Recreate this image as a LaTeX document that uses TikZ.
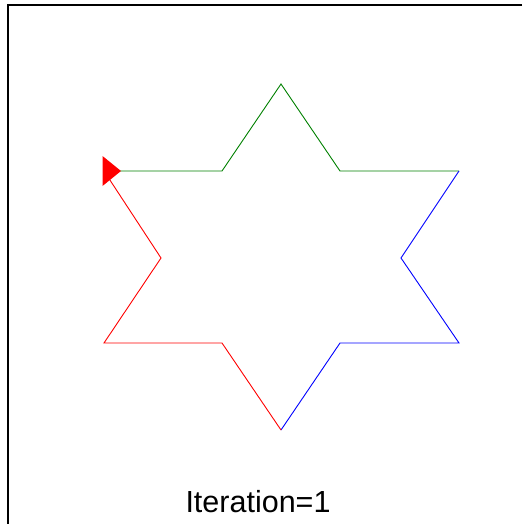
\documentclass[tikz,border=0pt]{standalone}
\usepackage{fontspec}
\setmainfont{Liberation Sans}
\usepackage{tikz}
\usetikzlibrary{positioning, calc}
\definecolor{kgreen}{RGB}{0,128,0}
\definecolor{kred}{RGB}{255,0,0}
\definecolor{kblue}{RGB}{0,0,255}
\tikzset{
  edge/.style={line width=0.9pt},
  frame/.style={line width=2pt, color=black},
  caption/.style={font=\fontsize{30.5}{34}\selectfont, text=black}
}
\begin{document}
\begin{tikzpicture}[x=1pt, y=-1pt]
  \useasboundingbox (0,0) rectangle (522,524);
  % Frame (only top and left edges show)
  \draw[frame] (522,5) -- (7.5,5) -- (7.5,524);

  % Star vertices
  \coordinate (L)  at (104,171); % turtle start
  \coordinate (A1) at (222,171);
  \coordinate (T)  at (281,84);  % top
  \coordinate (A2) at (340,171);
  \coordinate (R)  at (459,171);
  \coordinate (B1) at (401,258);
  \coordinate (BR) at (459,343);
  \coordinate (B2) at (340,343);
  \coordinate (D)  at (281,430); % bottom
  \coordinate (C1) at (222,343);
  \coordinate (BL) at (104,343);
  \coordinate (C2) at (161,258);

  % Segments of the first iteration
  \draw[edge, kgreen] (L) -- (A1) -- (T) -- (A2) -- (R);
  \draw[edge, kblue] (R) -- (B1) -- (BR) -- (B2) -- (D);
  \draw[edge, kred] (D) -- (C1) -- (BL) -- (C2) -- (L);

  % Turtle
  \fill[kred] (102.5,156) -- (121,171) -- (102.5,186) -- cycle;

  \node[caption] (iter) at (258,502) {Iteration=1};
\end{tikzpicture}
\end{document}
